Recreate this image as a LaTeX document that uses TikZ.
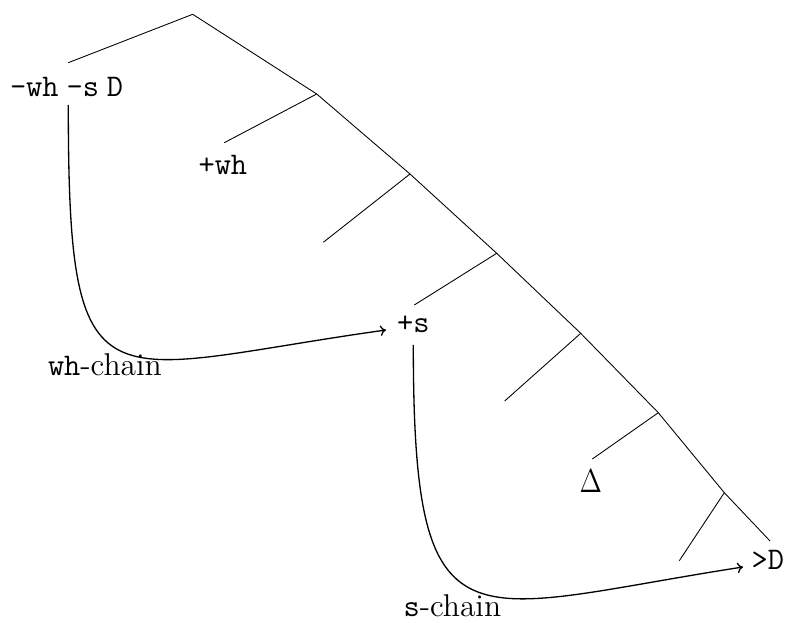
\documentclass[tikz,border=0pt]{standalone}
\usepackage{graphicx}
\usetikzlibrary{arrows.meta}
\begin{document}
\begin{tikzpicture}[x=0.381pt,y=-0.381pt,
  tree/.style={line width=0.33pt},
  chain/.style={line width=0.5pt,-{To[length=2.2pt,width=4pt]}},
  lab/.style={inner sep=0pt,anchor=base west,font=\fontsize{12}{14}\selectfont\ttfamily},
  serif/.style={inner sep=0pt,anchor=base west,font=\fontsize{12}{14}\selectfont}]
\useasboundingbox (0,0) rectangle (788,623);
% tree points
\coordinate (root) at (192.7,14.3);
\coordinate (l0) at (68.3,62.7);
\coordinate (n1) at (316.7,94);
\coordinate (b1) at (224.3,142.7);
\coordinate (n2) at (410,174);
\coordinate (b2) at (323.3,242.3);
\coordinate (n3) at (496.7,253.3);
\coordinate (b3) at (414.3,305);
\coordinate (n4) at (580.7,333.3);
\coordinate (b4) at (504.7,401);
\coordinate (n5) at (658.3,412.7);
\coordinate (b5) at (592.3,459);
\coordinate (n6) at (724.3,492.7);
\coordinate (b6) at (679.3,560.7);
\coordinate (n7) at (770,541);
% labels
\node[lab] (top) at (9.5,96.7) {-wh\hspace{3pt}-s\hspace{3pt}D};
\node[lab] (wh) at (198,175) {+wh};
\node[lab] (s) at (396.5,333) {+s};
\node[lab] (D) at (751,569) {>D};
\node[serif] (delta) at (579,492.7) {\scalebox{0.87}[1.05]{$\Delta$}};
\node[serif] (whchain) at (47.5,376) {\texttt{wh}-chain};
\node[serif] (schain) at (403,616) {\texttt{s}-chain};
% tree lines
\draw[tree] (l0) -- (root) -- (n1) -- (n2) -- (n3) -- (n4) -- (n5) -- (n6) -- (n7);
\draw[tree] (n1) -- (b1);
\draw[tree] (n2) -- (b2);
\draw[tree] (n3) -- (b3);
\draw[tree] (n4) -- (b4);
\draw[tree] (n5) -- (b5);
\draw[tree] (n6) -- (b6);
% chains
\coordinate (c1s) at (68.3,105);
\coordinate (c1e) at (386,330);
\coordinate (c2s) at (413.3,345);
\coordinate (c2e) at (743,567);
\draw[chain] (c1s) .. controls (68.3,420) and (100,370) .. (c1e);
\draw[chain] (c2s) .. controls (413.3,660) and (465,610) .. (c2e);
\end{tikzpicture}
\end{document}
